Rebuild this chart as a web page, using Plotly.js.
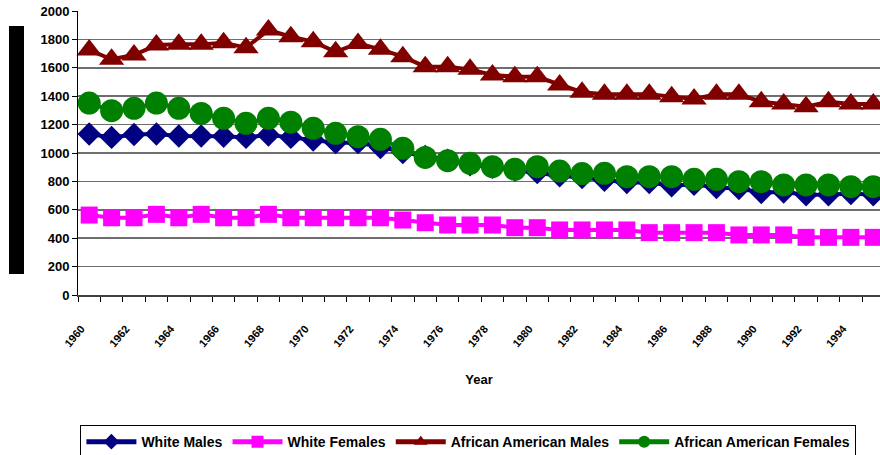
<!DOCTYPE html>
<html>
<head>
<meta charset="utf-8">
<script src="https://cdn.plot.ly/plotly-3.0.1.min.js"></script>
<style>html,body{margin:0;padding:0;background:#fff;overflow:hidden}</style>
</head>
<body>
<div id="chart" style="width:880px;height:455px"></div>
<script>
const years = [1960,1961,1962,1963,1964,1965,1966,1967,1968,1969,1970,1971,1972,1973,1974,1975,1976,1977,1978,1979,1980,1981,1982,1983,1984,1985,1986,1987,1988,1989,1990,1991,1992,1993,1994,1995];
const whiteMales = [1134,1110,1130,1134,1120,1120,1118,1110,1127,1110,1092,1073,1073,1039,1003,975,950,917,900,880,863,839,827,808,792,792,769,780,757,750,722,725,706,706,715,706];
const whiteFemales = [563,544,544,568,544,568,544,544,568,544,544,544,544,544,528,509,493,493,493,474,474,458,458,458,458,439,439,439,439,423,423,423,406,406,406,406];
const aaMales = [1725,1660,1690,1760,1765,1765,1777,1742,1866,1819,1784,1713,1772,1730,1678,1608,1608,1589,1549,1537,1537,1479,1428,1413,1413,1413,1397,1380,1413,1413,1361,1345,1326,1361,1345,1345];
const aaFemales = [1352,1298,1315,1352,1315,1279,1244,1209,1244,1217,1174,1139,1115,1096,1033,969,946,927,904,885,904,873,855,857,833,833,833,815,815,798,798,775,775,775,763,763];
const xTickVals = [1960,1962,1964,1966,1968,1970,1972,1974,1976,1978,1980,1982,1984,1986,1988,1990,1992,1994];
const xTickText = ['1960','1962','1964','1966','1968','1970','1972','1974','1976','1978','1980','1982','1984','1986','1988','1990','1992','1994'];
const yTickVals = [0,200,400,600,800,1000,1200,1400,1600,1800,2000];

const FONT = 'Arial, "Liberation Sans", sans-serif';

function tr(name, y, color, symbol, size) {
  return {
    type: 'scatter', mode: 'lines+markers', name: name, x: years, y: y,
    line: {color: color, width: 4},
    marker: {color: color, symbol: symbol, size: size},
    cliponaxis: false
  };
}

const data = [
  tr('White Males', whiteMales, '#000080', 'diamond', 18),
  tr('White Females', whiteFemales, '#FF00FF', 'square', 17),
  tr('African American Males', aaMales, '#800000', 'triangle-up', 22),
  tr('African American Females', aaFemales, '#008000', 'circle', 23)
];

const layout = {
  width: 880, height: 455,
  margin: {l: 78, r: 0, t: 11, b: 160, autoexpand: false},
  paper_bgcolor: '#ffffff', plot_bgcolor: '#ffffff',
  font: {family: FONT, color: '#000'},
  showlegend: true,
  xaxis: {
    range: [1959.5, 1995.3],
    tickmode: 'array', tickvals: xTickVals, ticktext: xTickText,
    tickangle: -50,
    tickfont: {family: FONT, size: 11, color: '#000', weight: 'bold'},
    ticks: '', ticklabelstandoff: 21, ticklabelshift: -8,
    minor: {ticks: 'outside', tick0: 1959.5, dtick: 1, ticklen: 5, tickcolor: '#000', showgrid: false},
    showgrid: false, zeroline: false,
    showline: true, linecolor: '#404040', linewidth: 2,
    title: {text: 'Year', font: {family: FONT, size: 13, color: '#000', weight: 'bold'}, standoff: 27}
  },
  yaxis: {
    range: [0, 2000],
    tickmode: 'array', tickvals: yTickVals,
    tickfont: {family: FONT, size: 13, color: '#000', weight: 'bold'},
    ticks: 'outside', ticklen: 5, tickcolor: '#000',
    showgrid: true, gridcolor: '#6e6e6e', gridwidth: 1.5,
    zeroline: false,
    showline: true, linecolor: '#000', linewidth: 1
  },
  legend: {
    orientation: 'h', x: 0.003, xanchor: 'left', y: -0.458, yanchor: 'top',
    bordercolor: '#000', borderwidth: 1, bgcolor: '#fff',
    font: {family: FONT, size: 14, color: '#000', weight: 'bold'},
    itemsizing: 'constant', traceorder: 'normal', itemwidth: 50
  },
  annotations: [{
    text: 'Death Rate per 100,000', xref: 'paper', yref: 'paper',
    x: (16 - 78) / 802, y: (295 - 150.5) / 284, xanchor: 'center', yanchor: 'middle',
    textangle: -90, showarrow: false, width: 245, height: 12,
    bgcolor: '#000', font: {family: FONT, size: 9, color: '#000'}
  }]
};

Plotly.newPlot('chart', data, layout, {displayModeBar: false, staticPlot: true});
</script>
</body>
</html>
